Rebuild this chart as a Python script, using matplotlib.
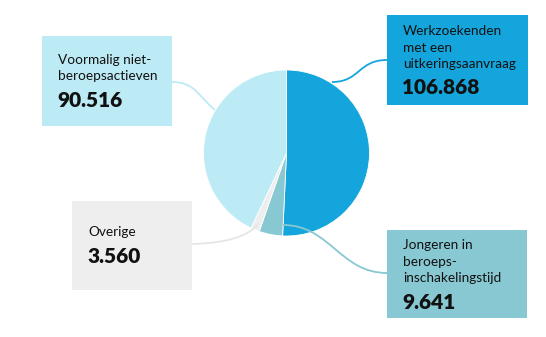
import matplotlib.pyplot as plt
import matplotlib.patches as mpatches
from matplotlib.path import Path

# data
labels = ["Werkzoekenden\nmet een\nuitkeringsaanvraag",
          "Jongeren in\nberoeps-\ninschakelingstijd",
          "Overige",
          "Voormalig niet-\nberoepsactieven"]
values = [106868, 9641, 3560, 90516]
colors = ["#14A5DC", "#88C8D2", "#EEEEEE", "#BDEBF5"]

W, H = 546, 337
def Y(py):
    return H - py  # pixel row -> data y

fig = plt.figure(figsize=(W / 100, H / 100), dpi=100)
ax = fig.add_axes([0, 0, 1, 1])

# pie, clockwise from 12 o'clock
ax.pie(values, colors=colors, startangle=90, counterclock=False,
       center=(286.5, Y(153)), radius=83,
       wedgeprops=dict(edgecolor="white", linewidth=0.6))
ax.set_xlim(0, W)
ax.set_ylim(0, H)
ax.set_aspect("equal")
ax.axis("off")

# label boxes: (x0, y0, x1, y1) in pixels, text left, first line top, number baseline
boxes = [
    ((387, 15, 528, 105), 403, 25, 94),
    ((387, 230, 527, 318), 403, 239, 309),
    ((72, 201, 192, 290), 88, 226, 263),
    ((42, 36, 172, 126), 58, 54, 107),
]
# connectors: pie point -> box point, with two control points
links = [
    [(332, 82), (360, 82), (358, 60), (387, 60)],
    [(283, 225), (330, 225), (340, 273), (387, 273)],
    [(258, 224), (248, 237), (225, 243), (192, 244)],
    [(215, 110), (198, 96), (195, 82), (172, 82)],
]
line_colors = ["#14A5DC", "#88C8D2", "#E6E6E6", "#BDEBF5"]

for (bx, tx, ty, ny), lab, val, col, lk, lc in zip(boxes, labels, values, colors, links, line_colors):
    x0, y0, x1, y1 = bx
    ax.add_patch(mpatches.Rectangle((x0, Y(y1)), x1 - x0, y1 - y0,
                                    facecolor=col, edgecolor="none", zorder=3))
    ax.text(tx, Y(ty), lab, ha="left", va="top", fontsize=9.8,
            family="Lato", color="#111111", linespacing=1.45, zorder=4)
    ax.text(tx - 1, Y(ny), f"{val:,}".replace(",", "."), ha="left", va="baseline",
            fontsize=15, fontweight="heavy", family="Lato", color="#111111", zorder=4)
    pts = [(px, Y(py)) for px, py in lk]
    path = Path(pts, [Path.MOVETO, Path.CURVE4, Path.CURVE4, Path.CURVE4])
    ax.add_patch(mpatches.PathPatch(path, facecolor="none", edgecolor=lc,
                                    linewidth=1.3, zorder=2))

fig.savefig("out.png", dpi=100)
